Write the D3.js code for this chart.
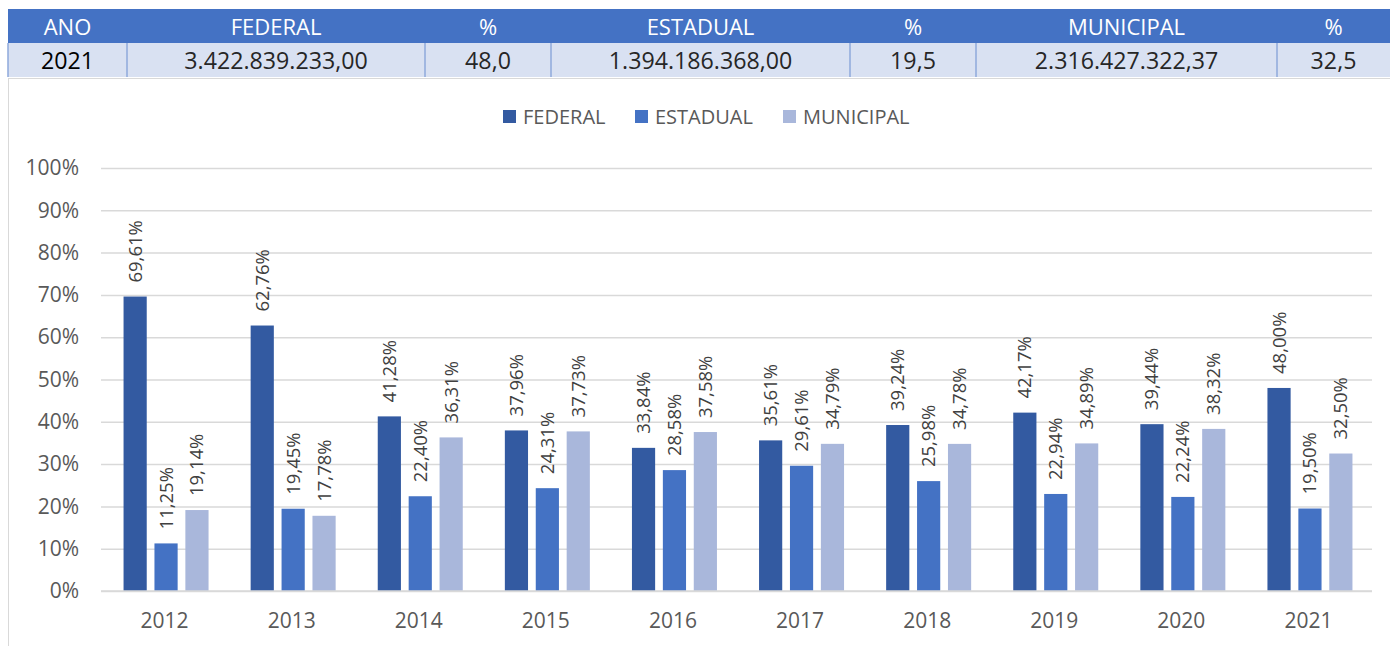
<!DOCTYPE html>
<html>
<head>
<meta charset="utf-8">
<script src="https://cdn.jsdelivr.net/npm/d3@7"></script>
<style>
  body { margin: 0; background: #fff; }
  svg text { font-family: "Open Sans", Lato, sans-serif; }
</style>
</head>
<body>
<div id="graph"></div>
<script>
var years = ["2012", "2013", "2014", "2015", "2016", "2017", "2018", "2019", "2020", "2021"];
var seriesNames = ["FEDERAL", "ESTADUAL", "MUNICIPAL"];
var federal = [69.61, 62.76, 41.28, 37.96, 33.84, 35.61, 39.24, 42.17, 39.44, 48.00];
var estadual = [11.25, 19.45, 22.40, 24.31, 28.58, 29.61, 25.98, 22.94, 22.24, 19.50];
var municipal = [19.14, 17.78, 36.31, 37.73, 37.58, 34.79, 34.78, 34.89, 38.32, 32.50];
var yTicks = [0, 10, 20, 30, 40, 50, 60, 70, 80, 90, 100];

var tableHeader = ["ANO", "FEDERAL", "%", "ESTADUAL", "%", "MUNICIPAL", "%"];
var tableRow = ["2021", "3.422.839.233,00", "48,0", "1.394.186.368,00", "19,5", "2.316.427.322,37", "32,5"];
var colEdges = [8, 127, 425, 551, 850, 976, 1277, 1390];

var colors = ["#335aa1", "#4472c4", "#a9b7db"];
var values = [federal, estadual, municipal];

var width = 1390, height = 646;
var svg = d3.select("#graph").append("svg").attr("width", width).attr("height", height);

// table
var tableLayer = svg.append("g");
var headTop = 9, headH = 34, rowH = 34;
tableLayer.append("rect").attr("x", 8).attr("y", headTop).attr("width", width - 8).attr("height", headH).attr("fill", "#4472c4");
tableLayer.append("rect").attr("x", 8).attr("y", headTop + headH).attr("width", width - 8).attr("height", rowH).attr("fill", "#d9e1f2");

tableHeader.forEach(function(t, i) {
  var cx = (colEdges[i] + colEdges[i + 1]) / 2;
  tableLayer.append("text").attr("x", cx).attr("y", headTop + 26).attr("text-anchor", "middle")
    .attr("fill", "#fff").style("font-size", "22px").text(t);
  tableLayer.append("text").attr("x", cx).attr("y", headTop + headH + 26).attr("text-anchor", "middle")
    .attr("fill", i == 0 ? "#000" : "#262626").style("font-size", "23.2px").text(tableRow[i]);
  if (i > 0) {
    tableLayer.append("line").attr("x1", colEdges[i]).attr("x2", colEdges[i])
      .attr("y1", headTop + headH).attr("y2", headTop + headH + rowH)
      .attr("stroke", "#8ea9db").attr("stroke-width", 1.5);
  }
});
tableLayer.append("line").attr("x1", 8).attr("x2", 8).attr("y1", headTop + headH).attr("y2", headTop + headH + rowH)
  .attr("stroke", "#8ea9db").attr("stroke-width", 1.5);

// chart frame
svg.append("line").attr("x1", 8.5).attr("x2", 8.5).attr("y1", 78).attr("y2", height).attr("stroke", "#d9d9d9");
svg.append("line").attr("x1", 8).attr("x2", width).attr("y1", 78.5).attr("y2", 78.5).attr("stroke", "#d9d9d9");

// scales
var margin = { left: 101, right: 18 };
var xScale = d3.scaleBand().domain(years).range([margin.left, width - margin.right]);
var yScale = d3.scaleLinear().domain([0, 100]).range([591, 168]);
var xSub = d3.scaleBand().domain(seriesNames).range([-41, 44]).paddingInner(0.25);

// grid + y axis
var yAxis = svg.append("g").attr("transform", "translate(" + margin.left + ",0)")
  .call(d3.axisLeft(yScale).tickValues(yTicks).tickFormat(function(d) { return d + "%"; })
    .tickSizeInner(-(width - margin.right - margin.left)).tickSizeOuter(0).tickPadding(22));
yAxis.select(".domain").remove();
yAxis.selectAll(".tick line").attr("stroke", "#d9d9d9").attr("stroke-width", 1.5);
yAxis.selectAll(".tick text").attr("fill", "#595959").style("font-size", "21px");

// bars
var barLayer = svg.append("g");
seriesNames.forEach(function(s, si) {
  var g = barLayer.append("g");
  g.selectAll("rect").data(values[si]).enter().append("rect")
    .attr("x", function(d, i) { return xScale(years[i]) + xScale.bandwidth() / 2 + xSub(s); })
    .attr("y", function(d) { return yScale(d); })
    .attr("width", xSub.bandwidth())
    .attr("height", function(d) { return yScale(0) - yScale(d); })
    .attr("fill", colors[si]);
  g.selectAll("text").data(values[si]).enter().append("text")
    .attr("transform", function(d, i) {
      var x = xScale(years[i]) + xScale.bandwidth() / 2 + xSub(s) + xSub.bandwidth() / 2 + 6.5;
      return "translate(" + [x, yScale(d) - 14] + ") rotate(-90)";
    })
    .attr("fill", "#404040").style("font-size", "18.5px")
    .text(function(d) { return d.toFixed(2).replace(".", ",") + "%"; });
});

// baseline
svg.append("line").attr("x1", margin.left).attr("x2", width - margin.right)
  .attr("y1", yScale(0)).attr("y2", yScale(0)).attr("stroke", "#d9d9d9").attr("stroke-width", 1.5);

// x axis
var xAxis = svg.append("g").attr("transform", "translate(0," + yScale(0) + ")")
  .call(d3.axisBottom(xScale).tickSize(0).tickPadding(22));
xAxis.select(".domain").remove();
xAxis.selectAll(".tick text").attr("fill", "#595959").style("font-size", "21px");

// legend
var legendX = [503, 635, 783];
var legend = svg.append("g");
seriesNames.forEach(function(s, i) {
  legend.append("rect").attr("x", legendX[i]).attr("y", 110).attr("width", 13).attr("height", 13).attr("fill", colors[i]);
  legend.append("text").attr("x", legendX[i] + 20).attr("y", 124).attr("fill", "#595959")
    .style("font-size", "20px").text(s);
});
</script>
</body>
</html>
